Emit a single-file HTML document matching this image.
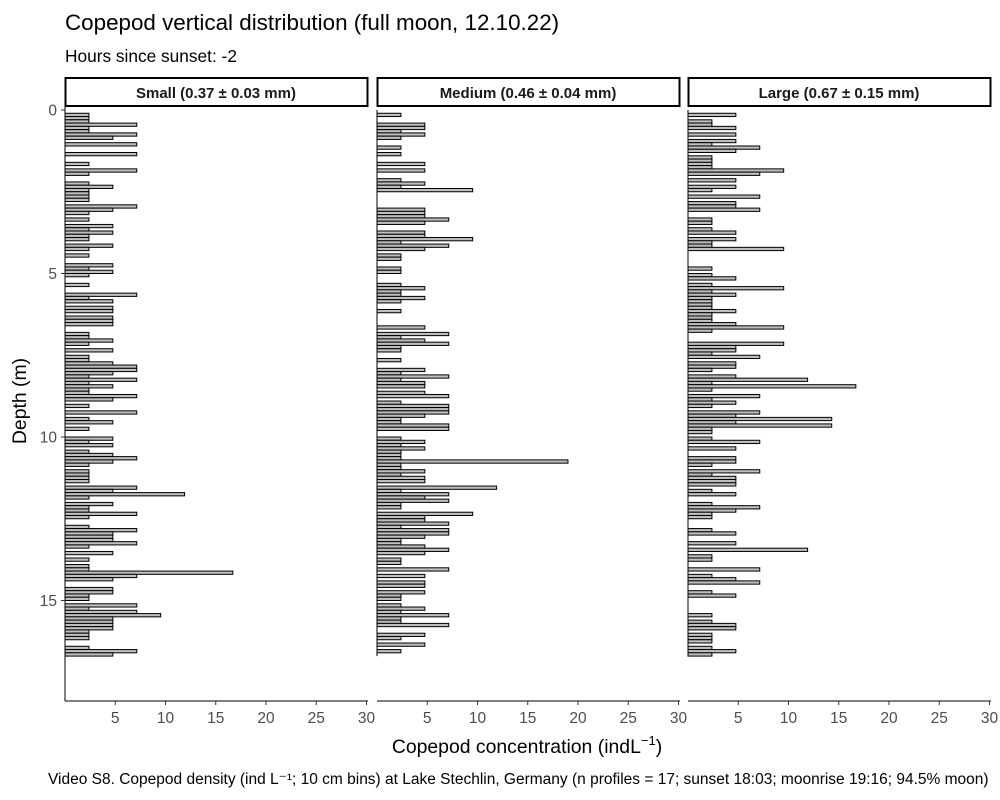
<!DOCTYPE html>
<html><head><meta charset="utf-8">
<style>
html,body{margin:0;padding:0;background:#fff;}
svg{display:block;font-family:"Liberation Sans",Arial,sans-serif;}
</style></head>
<body>
<svg id="chart" width="1000" height="800" viewBox="0 0 1000 800" xmlns="http://www.w3.org/2000/svg">
<text x="65" y="30" font-size="22.4" fill="#000">Copepod vertical distribution (full moon, 12.10.22)</text>
<text x="65" y="62" font-size="17.3" fill="#000">Hours since sunset: -2</text>
<text transform="translate(26,401) rotate(-90)" text-anchor="middle" font-size="19.4" fill="#000">Depth (m)</text>
<text x="527" y="753" text-anchor="middle" font-size="19.4" fill="#000">Copepod concentration (indL<tspan dy="-8" font-size="13">−1</tspan><tspan dy="8">)</tspan></text>
<text x="48" y="784" font-size="15.5" fill="#000">Video S8. Copepod density (ind L⁻¹; 10 cm bins) at Lake Stechlin, Germany (n profiles = 17; sunset 18:03; moonrise 19:16; 94.5% moon)</text>
<g id="panels"></g>
</svg>
<script>
const panelTitles = ["Small (0.37 ± 0.03 mm)", "Medium (0.46 ± 0.04 mm)", "Large (0.67 ± 0.15 mm)"];
const xTicks = [5, 10, 15, 20, 25, 30];
const yTicks = [0, 5, 10, 15];
const binSize = 0.1;
const smallValues = [
0,2.38,2.38,2.38,7.14,2.38,2.38,7.14,4.76,0,
7.14,0,0,7.14,0,0,2.38,0,7.14,2.38,
0,0,2.38,4.76,2.38,2.38,2.38,2.38,0,7.14,
4.76,2.38,0,2.38,0,4.76,2.38,4.76,2.38,2.38,
0,4.76,2.38,0,2.38,0,0,4.76,2.38,4.76,
2.38,0,0,2.38,0,0,7.14,2.38,4.76,0,
4.76,4.76,0,4.76,4.76,4.76,0,0,2.38,2.38,
4.76,2.38,0,4.76,0,2.38,2.38,4.76,7.14,7.14,
4.76,2.38,7.14,2.38,4.76,2.38,2.38,7.14,4.76,0,
2.38,0,7.14,0,2.38,4.76,0,2.38,0,0,
4.76,2.38,4.76,0,2.38,4.76,7.14,4.76,2.38,0,
2.38,2.38,2.38,2.38,0,7.14,4.76,11.9,2.38,0,
4.76,2.38,2.38,7.14,2.38,0,0,2.38,7.14,4.76,
4.76,4.76,7.14,2.38,0,4.76,0,2.38,0,2.38,
2.38,16.7,7.14,4.76,0,0,4.76,4.76,2.38,2.38,
0,7.14,2.38,7.14,9.52,4.76,4.76,4.76,4.76,2.38,
2.38,2.38,0,0,2.38,7.14,4.76];
const mediumValues = [
0,2.38,0,0,4.76,4.76,2.38,4.76,2.38,0,
0,2.38,0,2.38,0,0,4.76,0,4.76,0,
0,2.38,4.76,2.38,9.52,0,0,0,0,0,
4.76,4.76,4.76,7.14,4.76,0,0,4.76,4.76,9.52,
2.38,7.14,4.76,0,2.38,2.38,0,0,2.38,2.38,
0,0,0,2.38,4.76,2.38,2.38,4.76,2.38,0,
0,2.38,0,0,0,0,4.76,0,7.14,2.38,
4.76,7.14,2.38,2.38,0,0,2.38,0,0,4.76,
2.38,7.14,2.38,4.76,4.76,0,4.76,7.14,0,2.38,
7.14,7.14,7.14,4.76,2.38,2.38,7.14,7.14,0,0,
2.38,4.76,2.38,4.76,2.38,2.38,2.38,19.0,2.38,2.38,
4.76,2.38,4.76,4.76,0,11.9,2.38,7.14,4.76,7.14,
2.38,2.38,0,9.52,4.76,4.76,7.14,2.38,7.14,7.14,
4.76,2.38,2.38,4.76,7.14,4.76,0,2.38,2.38,0,
7.14,0,4.76,0,4.76,4.76,0,4.76,2.38,2.38,
0,2.38,4.76,2.38,7.14,2.38,2.38,7.14,0,0,
4.76,2.38,0,4.76,0,2.38,0];
const largeValues = [
0,4.76,0,2.38,2.38,4.76,0,4.76,0,4.76,
2.38,7.14,4.76,0,2.38,2.38,2.38,2.38,9.52,7.14,
0,4.76,0,4.76,2.38,0,7.14,0,4.76,4.76,
7.14,0,0,2.38,2.38,0,2.38,4.76,0,4.76,
2.38,2.38,9.52,0,0,0,0,0,2.38,0,
2.38,4.76,0,2.38,9.52,2.38,4.76,2.38,2.38,2.38,
2.38,4.76,2.38,2.38,2.38,4.76,9.52,2.38,0,0,
0,9.52,4.76,4.76,2.38,7.14,0,4.76,4.76,2.38,
0,4.76,11.9,2.38,16.7,2.38,0,7.14,2.38,4.76,
2.38,0,7.14,4.76,14.3,4.76,14.3,2.38,2.38,0,
2.38,7.14,0,4.76,0,0,4.76,4.76,2.38,0,
7.14,2.38,4.76,4.76,4.76,0,2.38,4.76,0,0,
2.38,7.14,4.76,2.38,2.38,0,0,0,2.38,4.76,
0,0,4.76,0,11.9,0,2.38,2.38,0,0,
7.14,0,2.38,4.76,7.14,0,0,2.38,4.76,0,
0,0,0,0,2.38,0,2.38,4.76,4.76,0,
2.38,2.38,2.38,0,2.38,4.76,2.38];
const seriesList = [smallValues, mediumValues, largeValues];

const NS = "http://www.w3.org/2000/svg";
const panelLeft = [65, 377, 688];
const panelWidth = 302;
const plotTop = 107, plotBottom = 701;
const y0 = 110, pxPerM = 32.7;
function xScale(p, v){ return panelLeft[p] + v * (panelWidth / 30.05); }
function yScale(d){ return y0 + d * pxPerM; }
function mk(tag, attrs, parent){ const e = document.createElementNS(NS, tag); for (const k in attrs) e.setAttribute(k, attrs[k]); parent.appendChild(e); return e; }

const root = document.getElementById('panels');
for (let p = 0; p < 3; p++) {
  const g = mk('g', {}, root);
  
  
  const strip = mk('rect', {x: panelLeft[p] + 0.5, y: 78, width: panelWidth, height: 28, fill: '#fff', stroke: '#000', 'stroke-width': 2}, g);
  
  
  const st = mk('text', {x: panelLeft[p] + panelWidth / 2, y: 98, 'text-anchor': 'middle', 'font-size': 15, 'font-weight': 'bold', fill: '#1a1a1a'}, g);
  st.textContent = panelTitles[p];
  
  
  const vals = seriesList[p];
  const zl = mk('line', {x1: xScale(p, 0), x2: xScale(p, 0), y1: yScale(0), y2: p === 0 ? plotBottom : yScale(vals.length * binSize), stroke: '#000', 'stroke-width': 1}, g);
  
  
  for (let i = 0; i < vals.length; i++) {
    const d = i * binSize;
    const r = mk('rect', {x: xScale(p, 0), y: yScale(d), width: xScale(p, vals[i]) - xScale(p, 0), height: yScale(d + binSize) - yScale(d), fill: '#bebebe', stroke: '#000', 'stroke-width': 1}, g);
    
    
  }
  const ax = mk('line', {x1: panelLeft[p], x2: panelLeft[p] + panelWidth + 1, y1: plotBottom, y2: plotBottom, stroke: '#000', 'stroke-width': 1}, g);
  
  
  for (const t of xTicks) {
    const x = xScale(p, t);
    mk('line', {x1: x, x2: x, y1: plotBottom, y2: plotBottom + 4, stroke: '#333', 'stroke-width': 1}, g);
    const tl = mk('text', {x: x, y: 723, 'text-anchor': 'middle', 'font-size': 15.5, fill: '#4d4d4d'}, g);
    tl.textContent = t;
    
    
  }
  if (p === 0) {
    const ay = mk('line', {x1: panelLeft[0], x2: panelLeft[0], y1: plotTop, y2: plotBottom, stroke: '#000', 'stroke-width': 1}, g);
    
    
    for (const t of yTicks) {
      const y = yScale(t);
      mk('line', {x1: panelLeft[0] - 4, x2: panelLeft[0], y1: y, y2: y, stroke: '#333', 'stroke-width': 1}, g);
      const tl = mk('text', {x: 57, y: y + 5.5, 'text-anchor': 'end', 'font-size': 15.5, fill: '#4d4d4d'}, g);
      tl.textContent = t;
      
      
    }
  }
}
</script>
</body></html>
